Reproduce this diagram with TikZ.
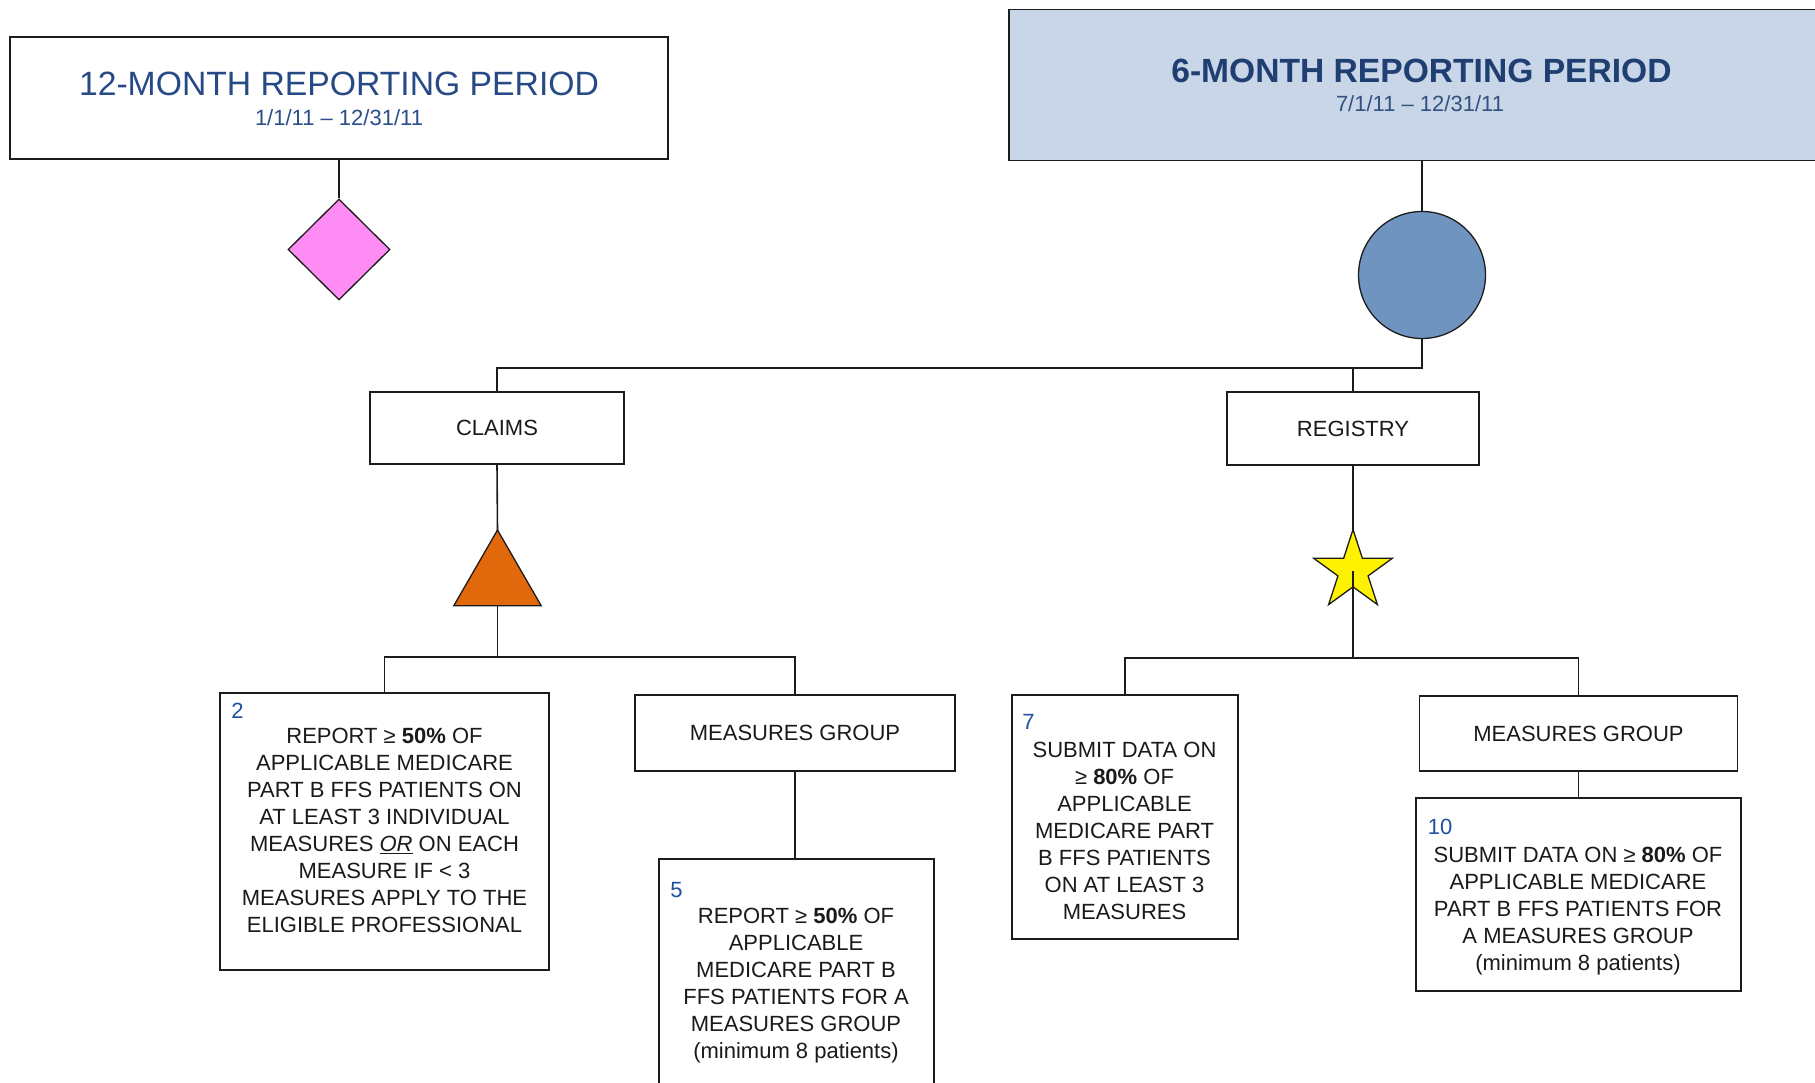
\documentclass[tikz,border=0pt]{standalone}
\usepackage{fontspec}
\setmainfont{Liberation Sans}
\usetikzlibrary{shapes.geometric}
\definecolor{ttlA}{HTML}{264A85}
\definecolor{ttlB}{HTML}{1F3E72}
\definecolor{dateA}{HTML}{2C4F8A}
\definecolor{dateB}{HTML}{33517F}
\definecolor{numblue}{HTML}{2250A0}
\definecolor{bodytxt}{HTML}{1A1A1A}
\definecolor{lineclr}{HTML}{1C1C1C}
\definecolor{sixfill}{HTML}{C8D6E8}
\definecolor{circfill}{HTML}{7094C0}
\definecolor{trifill}{HTML}{E2680C}
\definecolor{diafill}{HTML}{FF8CF5}
\newcommand\mybody{\fontsize{22}{27}\selectfont}
\tikzset{
  boxshape/.style={draw=lineclr, line width=1.8pt, inner sep=0pt, fill=white},
  conn/.style={draw=lineclr, line width=1.6pt},
  bodytext/.style={inner sep=0pt, text=bodytxt, font=\mybody, align=center},
  numlabel/.style={inner sep=0pt, text=numblue, font=\fontsize{22}{26}\selectfont},
}
\begin{document}
\begin{tikzpicture}[x=1pt,y=-1pt]
\useasboundingbox (0,0) rectangle (1815,1082);
\fill[white] (0,0) rectangle (1815,1082);

% header boxes
\node[boxshape, minimum width=658, minimum height=122] (p12) at (339,98) {};
\node[boxshape, fill=sixfill, minimum width=826, minimum height=151] (p6) at (1422,85) {};
\node[anchor=base, inner sep=0pt, text=ttlA, font=\fontsize{33.7}{40}\selectfont] (t12) at (339,95.7) {12-MONTH REPORTING PERIOD};
\node[anchor=base, inner sep=0pt, text=dateA, font=\fontsize{22}{26}\selectfont] (d12) at (339,125) {1/1/11 – 12/31/11};
\node[anchor=base, inner sep=0pt, text=ttlB, font=\fontsize{33.6}{40}\selectfont\bfseries] (t6) at (1421.5,82) {6-MONTH REPORTING PERIOD};
\node[anchor=base, inner sep=0pt, text=dateB, font=\fontsize{22}{26}\selectfont] (d6) at (1420,111.7) {7/1/11 – 12/31/11};

% symbols
\node[diamond, draw=lineclr, line width=1.3pt, fill=diafill, minimum width=102, minimum height=101, inner sep=0pt] (dia) at (339,249.5) {};
\node[circle, draw=lineclr, line width=1.3pt, fill=circfill, minimum size=127, inner sep=0pt] (circ) at (1422,275) {};

% second level
\node[boxshape, minimum width=254, minimum height=72] (claims) at (497,428) {};
\node[bodytext] at (claims.center) {CLAIMS};
\node[boxshape, minimum width=252.5, minimum height=73] (registry) at (1353,428.5) {};
\node[bodytext] at (registry.center) {REGISTRY};

\coordinate (j1) at (1422,368);
\draw[conn] (p12.south) -- (dia.north);
\draw[conn] (p6.south) -- (circ.north);
\draw[conn] (circ.south) -- (j1) -| (claims.north);
\draw[conn] (registry.north) -- (registry.north |- j1);

% triangle and star
\draw[conn] (claims.south) -- (497.5,531);
\node[regular polygon, regular polygon sides=3, draw=lineclr, line width=1.3pt, fill=trifill, minimum size=101, inner sep=0pt] (tri) at (497.5,580.5) {};
\draw[conn] (registry.south) -- (1353,531);
\node[star, star points=5, star point ratio=2.618, draw=lineclr, line width=1.3pt, fill=yellow, minimum size=83, inner sep=0pt] (star) at (1353,571) {};

\coordinate (j2) at (497.5,657);
\coordinate (j3) at (1353,658);

% third level boxes
\node[boxshape, minimum width=329, minimum height=277] (b2) at (384.5,831.5) {};
\node[boxshape, minimum width=320, minimum height=75.5] (mgL) at (795,733) {};
\node[bodytext] at (mgL.center) {MEASURES GROUP};
\node[boxshape, minimum width=275, minimum height=250] (b5) at (796.5,984) {};
\node[boxshape, minimum width=226, minimum height=244] (b7) at (1125,817) {};
\node[boxshape, minimum width=318, minimum height=75] (mgR) at (1578.5,733.5) {};
\node[bodytext] at (mgR.center) {MEASURES GROUP};
\node[boxshape, minimum width=325, minimum height=193] (b10) at (1578.5,894.5) {};

\draw[conn] (tri.south) -- (j2);
\draw[conn] (b2.north) |- (j2) -| (mgL.north);
\draw[conn] (star.center) -- (j3);
\draw[conn] (b7.north) |- (j3) -| (mgR.north);
\draw[conn] (mgL.south) -- (mgL.south |- b5.north);
\draw[conn] (mgR.south) -- (mgR.south |- b10.north);

% numbers
\node[numlabel] (n2) at (237.5,710.5) {2};
\node[numlabel] (n5) at (676.5,890) {5};
\node[numlabel] (n7) at (1028.6,721.7) {7};
\node[numlabel] (n10) at (1440,826.7) {10};

% texts
\node[bodytext, anchor=north] (tx2) at (384.5,728) {REPORT ≥ \textbf{50\%} OF\\APPLICABLE MEDICARE\\PART B FFS PATIENTS ON\\AT LEAST 3 INDIVIDUAL\\MEASURES \underline{\textit{OR}} ON EACH\\MEASURE IF < 3\\MEASURES APPLY TO THE\\ELIGIBLE PROFESSIONAL};
\node[bodytext, anchor=north] (tx5) at (796,908) {REPORT ≥ \textbf{50\%} OF\\APPLICABLE\\MEDICARE PART B\\FFS PATIENTS FOR A\\MEASURES GROUP\\(minimum 8 patients)};
\node[bodytext, anchor=north] (tx7) at (1124.5,742) {SUBMIT DATA ON\\≥ \textbf{80\%} OF\\APPLICABLE\\MEDICARE PART\\B FFS PATIENTS\\ON AT LEAST 3\\MEASURES};
\node[bodytext, anchor=north] (tx10) at (1578,847) {SUBMIT DATA ON ≥ \textbf{80\%} OF\\APPLICABLE MEDICARE\\PART B FFS PATIENTS FOR\\A MEASURES GROUP\\(minimum 8 patients)};
\end{tikzpicture}
\end{document}
